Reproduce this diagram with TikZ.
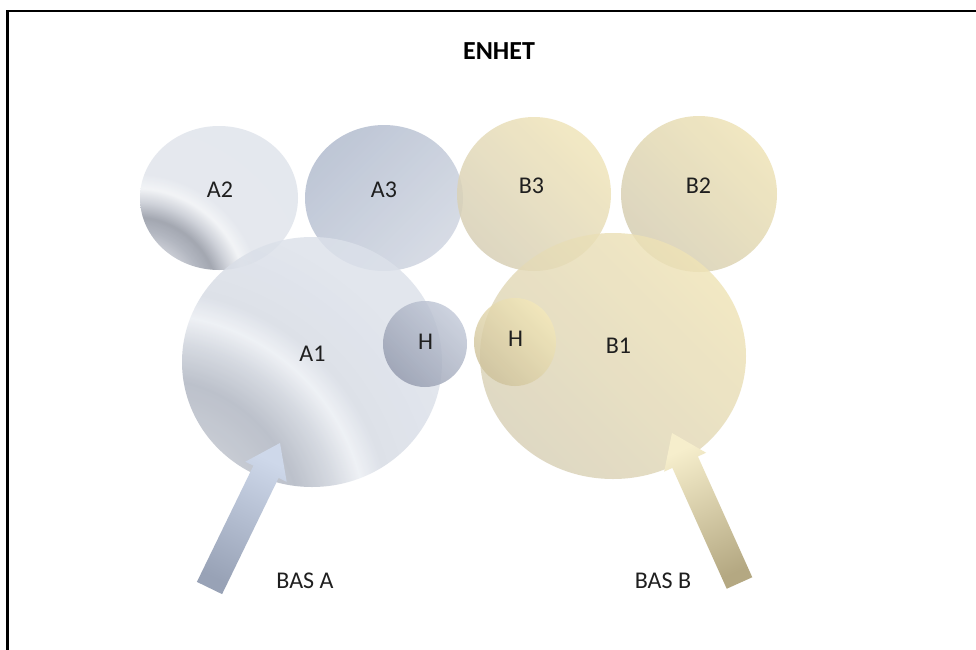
\documentclass[tikz,border=0pt]{standalone}
\usepackage{fontspec}
\setmainfont{Carlito}
\usetikzlibrary{calc}
\definecolor{aL}{HTML}{DCE1EA}
\definecolor{aL2}{HTML}{E0E4EB}
\definecolor{aW}{HTML}{F0F2F5}
\definecolor{aD}{HTML}{8F94A0}
\definecolor{aM}{HTML}{A2A7B3}
\definecolor{aN}{HTML}{C5C9D2}
\definecolor{aC}{HTML}{CDD0D8}
\definecolor{bM}{HTML}{BCC1CB}
\definecolor{bD}{HTML}{AEB4C0}
\definecolor{bN}{HTML}{CDD2DB}
\definecolor{bW}{HTML}{EBEEF3}
\definecolor{bL}{HTML}{D6DBE4}
\pgfdeclareradialshading{silverAtwo}{\pgfpoint{0bp}{0bp}}{color(0bp)=(aC); color(5bp)=(aC); color(7bp)=(aM); color(8.3bp)=(aD); color(9.8bp)=(aN); color(11.2bp)=(aW); color(12.6bp)=(aL2); color(50bp)=(aL)}
\pgfdeclareradialshading{silverAone}{\pgfpoint{0bp}{0bp}}{color(0bp)=(bM); color(6.5bp)=(bM); color(9.5bp)=(bD); color(11.8bp)=(bN); color(13.5bp)=(bW); color(15bp)=(bL); color(20bp)=(aL); color(50bp)=(aL2)}
\tikzset{
  lbl/.style={inner sep=0pt, text=black!88, font=\fontsize{12}{14}\selectfont},
  ttl/.style={inner sep=0pt, text=black, font=\fontsize{13}{15}\selectfont\bfseries},
  disc/.style={fill opacity=0.82},
}
\begin{document}
\begin{tikzpicture}[x=0.5pt,y=-0.5pt]
\useasboundingbox (0,0) rectangle (976,649);
\clip (0,0) rectangle (976,649);
\fill[white] (0,0) rectangle (976,649);
% frame
\draw[line width=1.3pt] (7.5,700) -- (7.5,11) -- (1000,11);

% circle centres
\coordinate (cA2) at (219,198);
\coordinate (cA3) at (384,198);
\coordinate (cB3) at (534,194);
\coordinate (cB2) at (699,194);
\coordinate (cA1) at (312,362);
\coordinate (cB1) at (613,356);
\coordinate (cHA) at (425,344);
\coordinate (cHB) at (515,342);

% top circles
\begin{scope}[disc]
  \begin{scope}
    \clip (cA2) ellipse [x radius=79, y radius=72];
    \shade[shading=silverAtwo] (135,300) circle [radius=250];
  \end{scope}
  \shade[left color={rgb,255:red,176;green,186;blue,205}, right color={rgb,255:red,206;green,212;blue,224}, shading angle=45] (cA3) ellipse [x radius=79, y radius=73];
  \shade[left color={rgb,255:red,214;green,206;blue,180}, right color={rgb,255:red,240;green,228;blue,184}, shading angle=135] (cB3) ellipse [x radius=77, y radius=77];
  \shade[left color={rgb,255:red,212;green,204;blue,176}, right color={rgb,255:red,238;green,226;blue,180}, shading angle=135] (cB2) ellipse [x radius=78, y radius=78];
\end{scope}
% big circles
\begin{scope}[disc]
  \begin{scope}
    \clip (cA1) ellipse [x radius=130, y radius=125];
    \shade[shading=silverAone] (150,530) circle [radius=400];
  \end{scope}
  \shade[left color={rgb,255:red,216;green,208;blue,182}, right color={rgb,255:red,239;green,227;blue,182}, shading angle=135] (cB1) ellipse [x radius=133, y radius=123];
\end{scope}
% H circles
\begin{scope}[disc]
  \shade[left color={rgb,255:red,148;green,155;blue,174}, right color={rgb,255:red,194;green,201;blue,216}, shading angle=135] (cHA) ellipse [x radius=42, y radius=43];
  \shade[left color={rgb,255:red,206;green,194;blue,156}, right color={rgb,255:red,243;green,232;blue,186}, shading angle=135] (cHB) ellipse [x radius=41, y radius=44];
\end{scope}

% block arrows
\coordinate (tailA) at (209.5,588);
\coordinate (tipA) at (280,443);
\coordinate (baseA) at ($(tipA)!16pt!(tailA)$);
\shade[left color={rgb,255:red,152;green,162;blue,182}, right color={rgb,255:red,206;green,216;blue,234}, shading angle=154]
  ($(tailA)!7pt!90:(tipA)$) -- ($(baseA)!7pt!90:(tipA)$) -- ($(baseA)!11.5pt!90:(tipA)$)
  -- (tipA) -- ($(baseA)!11.5pt!-90:(tipA)$) -- ($(baseA)!7pt!-90:(tipA)$) -- ($(tailA)!7pt!-90:(tipA)$) -- cycle;
\coordinate (tailB) at (739.5,583);
\coordinate (tipB) at (672,433);
\coordinate (baseB) at ($(tipB)!16pt!(tailB)$);
\shade[left color={rgb,255:red,180;green,168;blue,130}, right color={rgb,255:red,246;green,238;blue,204}, shading angle=204]
  ($(tailB)!7pt!90:(tipB)$) -- ($(baseB)!7pt!90:(tipB)$) -- ($(baseB)!11.5pt!90:(tipB)$)
  -- (tipB) -- ($(baseB)!11.5pt!-90:(tipB)$) -- ($(baseB)!7pt!-90:(tipB)$) -- ($(tailB)!7pt!-90:(tipB)$) -- cycle;

% labels
\node[ttl] (enhet) at (499,51.5) {ENHET};
\node[lbl] (A2) at (220,190) {A2};
\node[lbl] (A3) at (384,189.5) {A3};
\node[lbl] (B3) at (531.5,185.5) {B3};
\node[lbl] (B2) at (698.5,185.5) {B2};
\node[lbl] (A1) at (312.5,353.5) {A1};
\node[lbl] (HA) at (425.5,341.5) {H};
\node[lbl] (HB) at (515.5,339) {H};
\node[lbl] (B1) at (618.5,346) {B1};
\node[lbl] (basA) at (305,580.5) {BAS A};
\node[lbl] (basB) at (663,581) {BAS B};
\end{tikzpicture}
\end{document}
